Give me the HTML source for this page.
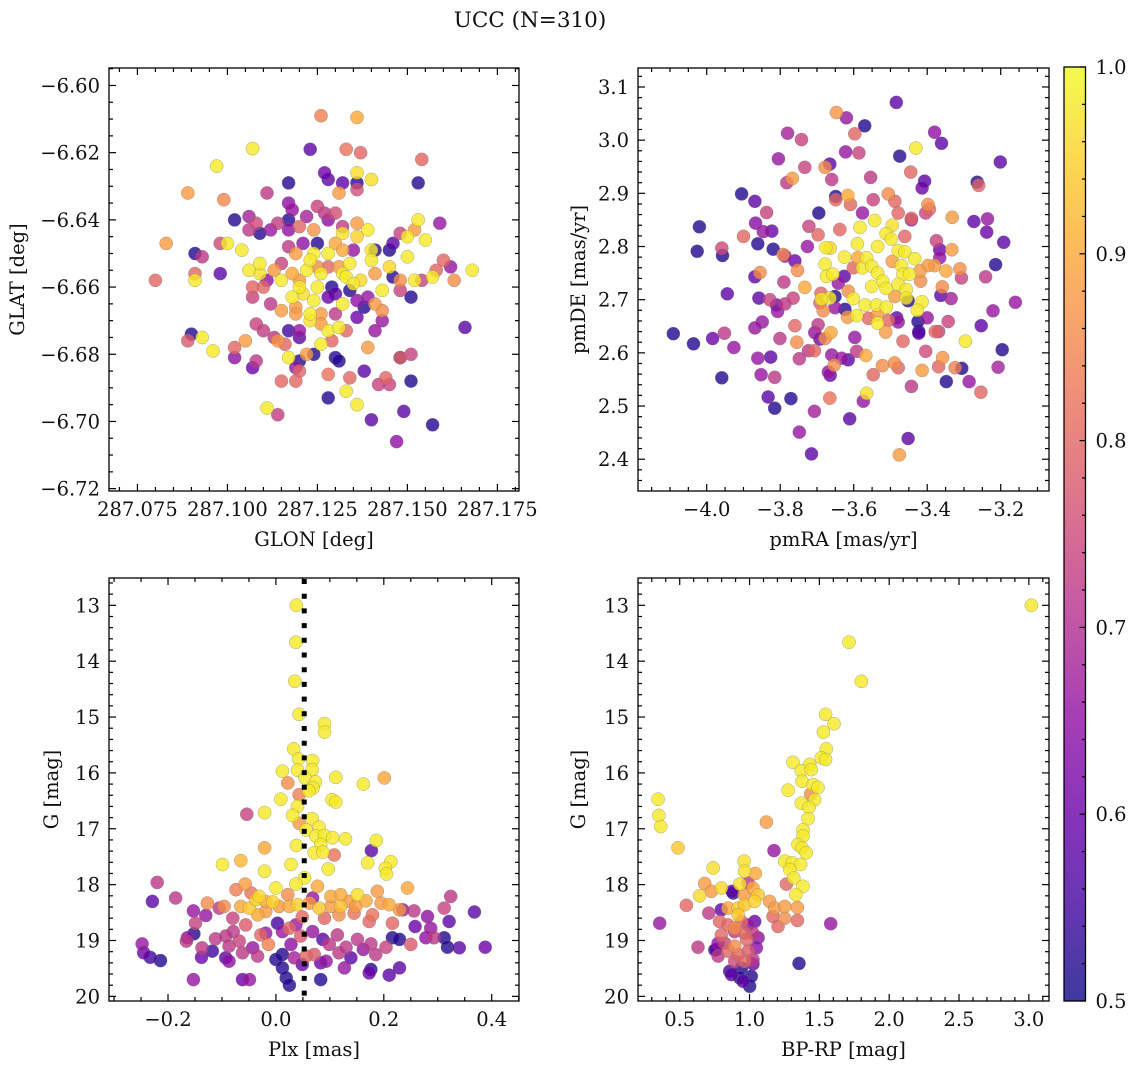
<!DOCTYPE html>
<html><head><meta charset="utf-8"><title>UCC (N=310)</title>
<style>
html,body{margin:0;padding:0;background:#fff;}
svg{display:block;font-family:"DejaVu Serif","Liberation Serif",serif;}
</style></head>
<body>
<svg id="fig" xmlns="http://www.w3.org/2000/svg" width="1136" height="1067" viewBox="0 0 1136 1067">
<rect x="0" y="0" width="1136" height="1067" fill="#fff"/>
<text x="530" y="27" text-anchor="middle" font-size="21.5" fill="#111">UCC (N=310)</text>
</svg>
<script>
// ---------- Panel 1: GLON / GLAT ----------
const p1Glon=[287.126,287.136,287.107,287.123,287.133,287.137,287.154,287.097,287.117,287.127,287.128,287.132,287.136,287.136,287.136,287.140,287.153,287.089,287.099,287.111,287.131,287.117,287.102,287.106,287.125,287.118,287.127,287.130,287.153,287.159,287.083,287.091,287.093,287.098,287.100,287.104,287.109,287.106,287.108,287.112,287.114,287.117,287.117,287.122,287.120,287.124,287.128,287.132,287.136,287.139,287.132,287.136,287.148,287.146,287.150,287.152,287.155,287.125,287.130,287.117,287.121,287.119,287.124,287.128,287.132,287.135,287.140,287.141,287.145,287.150,287.160,287.162,287.168,287.080,287.091,287.091,287.098,287.106,287.109,287.109,287.113,287.115,287.115,287.111,287.107,287.110,287.107,287.118,287.120,287.122,287.123,287.125,287.126,287.128,287.131,287.134,287.132,287.133,287.135,287.137,287.140,287.141,287.145,287.146,287.148,287.152,287.154,287.157,287.158,287.163,287.120,287.125,287.129,287.130,287.134,287.139,287.143,287.148,287.151,287.118,287.121,287.124,287.112,287.115,287.119,287.128,287.132,287.136,287.138,287.141,287.143,287.119,287.123,287.123,287.126,287.130,287.136,287.143,287.126,287.108,287.110,287.113,287.117,287.120,287.114,287.116,287.120,287.128,287.131,287.133,287.141,287.090,287.089,287.093,287.096,287.102,287.105,287.102,287.107,287.108,287.117,287.120,287.119,287.122,287.124,287.126,287.129,287.130,287.131,287.139,287.148,287.148,287.151,287.120,287.115,287.119,287.128,287.134,287.138,287.144,287.142,287.145,287.151,287.128,287.133,287.136,287.111,287.114,287.140,287.149,287.157,287.147,287.166];
const p1Glat=[-6.609,-6.6095,-6.6188,-6.619,-6.619,-6.620,-6.622,-6.624,-6.629,-6.626,-6.628,-6.629,-6.626,-6.629,-6.631,-6.628,-6.629,-6.632,-6.634,-6.632,-6.632,-6.635,-6.640,-6.639,-6.636,-6.637,-6.638,-6.638,-6.640,-6.641,-6.647,-6.650,-6.651,-6.647,-6.647,-6.649,-6.644,-6.643,-6.641,-6.643,-6.641,-6.640,-6.643,-6.639,-6.642,-6.643,-6.640,-6.642,-6.641,-6.643,-6.644,-6.645,-6.644,-6.647,-6.645,-6.643,-6.646,-6.647,-6.647,-6.648,-6.647,-6.650,-6.650,-6.650,-6.649,-6.649,-6.649,-6.649,-6.649,-6.651,-6.652,-6.654,-6.655,-6.658,-6.656,-6.658,-6.656,-6.655,-6.653,-6.656,-6.655,-6.653,-6.658,-6.658,-6.660,-6.660,-6.663,-6.656,-6.658,-6.655,-6.652,-6.654,-6.656,-6.654,-6.654,-6.653,-6.656,-6.657,-6.659,-6.658,-6.652,-6.656,-6.654,-6.657,-6.658,-6.658,-6.658,-6.657,-6.655,-6.658,-6.660,-6.660,-6.660,-6.662,-6.661,-6.663,-6.661,-6.661,-6.663,-6.663,-6.662,-6.664,-6.665,-6.667,-6.666,-6.663,-6.665,-6.664,-6.666,-6.665,-6.667,-6.668,-6.668,-6.670,-6.668,-6.668,-6.669,-6.670,-6.671,-6.671,-6.673,-6.675,-6.673,-6.673,-6.676,-6.677,-6.675,-6.673,-6.672,-6.673,-6.673,-6.674,-6.676,-6.675,-6.679,-6.678,-6.676,-6.681,-6.684,-6.682,-6.681,-6.682,-6.684,-6.680,-6.680,-6.677,-6.676,-6.681,-6.682,-6.678,-6.681,-6.681,-6.680,-6.685,-6.688,-6.688,-6.686,-6.687,-6.685,-6.687,-6.689,-6.689,-6.688,-6.693,-6.691,-6.695,-6.696,-6.698,-6.6995,-6.697,-6.701,-6.706,-6.672];
const p1Prob=[.84,.9,.98,.58,.82,.8,.8,.98,.52,.6,.58,.58,.97,.52,.76,.97,.52,.88,.85,.72,.88,.65,.52,.68,.74,.66,.72,.76,.98,.66,.88,.52,.72,.75,.98,.98,.52,.72,.75,.66,.73,.52,.65,.68,.8,.87,.65,.73,.88,.98,.97,.95,.74,.58,.98,.88,.98,.52,.9,.72,.65,.88,.98,.98,.9,.66,.98,.52,.52,.98,.8,.66,.98,.8,.8,.98,.58,.98,.98,.97,.88,.74,.98,.65,.8,.8,.74,.9,.88,.98,.98,.86,.98,.8,.88,.98,.98,.98,.98,.96,.98,.88,.96,.52,.86,.98,.74,.98,.8,.86,.98,.98,.52,.58,.52,.66,.98,.74,.52,.98,.97,.98,.72,.88,.88,.6,.98,.65,.52,.88,.86,.88,.98,.97,.88,.72,.6,.66,.88,.74,.73,.72,.55,.66,.87,.8,.58,.98,.98,.8,.66,.52,.78,.98,.98,.8,.88,.65,.6,.72,.98,.52,.65,.88,.52,.98,.8,.52,.52,.88,.52,.8,.74,.8,.8,.8,.82,.8,.58,.8,.74,.74,.52,.52,.98,.98,.98,.73,.58,.58,.52,.65,.58];

// ---------- Panel 2: pmRA / pmDE ----------
const p2PmRA=[-3.484,-3.647,-3.620,-3.570,-3.597,-3.780,-3.742,-3.622,-3.586,-3.380,-3.361,-3.431,-3.475,-3.201,-3.805,-3.733,-3.665,-3.678,-3.767,-3.782,-3.660,-3.554,-3.445,-3.407,-3.414,-3.264,-3.260,-3.905,-3.869,-3.837,-3.867,-3.846,-3.823,-4.020,-4.026,-3.959,-3.957,-3.900,-3.861,-3.819,-3.792,-3.760,-3.787,-3.753,-3.855,-3.869,-3.790,-3.733,-3.944,-3.858,-3.828,-3.810,-3.807,-3.787,-3.765,-3.849,-3.869,-4.091,-4.036,-3.984,-3.952,-3.926,-3.861,-3.826,-3.852,-3.815,-3.959,-3.833,-3.815,-3.771,-3.801,-3.760,-3.755,-3.748,-3.723,-3.707,-3.706,-3.697,-3.692,-3.678,-3.662,-3.660,-3.633,-3.653,-3.664,-3.669,-3.615,-3.665,-3.707,-3.748,-3.715,-3.611,-3.574,-3.565,-3.547,-3.522,-3.489,-3.479,-3.476,-3.452,-3.443,-3.414,-3.404,-3.567,-3.592,-3.597,-3.466,-3.423,-3.378,-3.369,-3.369,-3.358,-3.348,-3.324,-3.306,-3.286,-3.254,-3.207,-3.296,-3.253,-3.221,-3.196,-3.160,-3.343,-3.335,-3.363,-3.359,-3.307,-3.311,-3.349,-3.380,-3.398,-3.241,-3.214,-3.192,-3.238,-3.236,-3.273,-3.332,-3.333,-3.375,-3.366,-3.366,-3.398,-3.394,-3.404,-3.443,-3.443,-3.461,-3.488,-3.506,-3.479,-3.547,-3.576,-3.609,-3.616,-3.649,-3.649,-3.695,-3.722,-3.697,-3.638,-3.726,-3.543,-3.495,-3.583,-3.512,-3.498,-3.535,-3.590,-3.676,-3.664,-3.625,-3.678,-3.674,-3.657,-3.626,-3.642,-3.601,-3.576,-3.565,-3.551,-3.589,-3.535,-3.521,-3.551,-3.512,-3.495,-3.479,-3.461,-3.470,-3.434,-3.466,-3.448,-3.420,-3.418,-3.479,-3.457,-3.488,-3.457,-3.414,-3.427,-3.452,-3.400,-3.423,-3.425,-3.615,-3.601,-3.651,-3.665,-3.688,-3.689,-3.692,-3.683,-3.651,-3.624,-3.617,-3.592,-3.569,-3.560,-3.538,-3.511,-3.535,-3.513,-3.506,-3.483,-3.479,-3.535];
const p2PmDE=[3.071,3.052,3.042,3.027,3.012,3.013,3.001,2.978,2.976,3.015,2.994,2.985,2.970,2.959,2.965,2.949,2.955,2.949,2.928,2.920,2.926,2.930,2.940,2.923,2.910,2.921,2.915,2.899,2.885,2.864,2.844,2.828,2.829,2.837,2.791,2.797,2.783,2.819,2.805,2.795,2.785,2.773,2.782,2.755,2.751,2.743,2.733,2.723,2.711,2.703,2.700,2.690,2.678,2.692,2.703,2.658,2.647,2.636,2.617,2.627,2.637,2.610,2.590,2.592,2.559,2.554,2.553,2.517,2.496,2.514,2.627,2.651,2.620,2.589,2.604,2.604,2.638,2.653,2.626,2.627,2.638,2.596,2.590,2.577,2.558,2.564,2.587,2.515,2.490,2.451,2.410,2.476,2.509,2.524,2.559,2.576,2.581,2.572,2.408,2.439,2.537,2.567,2.603,2.595,2.603,2.629,2.622,2.637,2.640,2.640,2.574,2.591,2.546,2.572,2.571,2.546,2.526,2.573,2.622,2.651,2.679,2.606,2.695,2.659,2.702,2.708,2.724,2.741,2.758,2.754,2.764,2.764,2.743,2.766,2.808,2.827,2.852,2.847,2.855,2.794,2.811,2.794,2.779,2.879,2.870,2.863,2.850,2.853,2.819,2.885,2.899,2.863,2.888,2.863,2.879,2.896,2.894,2.888,2.863,2.838,2.822,2.832,2.800,2.849,2.840,2.836,2.824,2.814,2.800,2.805,2.798,2.797,2.780,2.767,2.744,2.748,2.744,2.731,2.760,2.760,2.779,2.763,2.779,2.750,2.735,2.725,2.721,2.772,2.792,2.790,2.764,2.777,2.748,2.748,2.754,2.735,2.729,2.719,2.706,2.703,2.696,2.680,2.698,2.666,2.640,2.659,2.716,2.702,2.706,2.703,2.701,2.712,2.694,2.679,2.685,2.682,2.667,2.670,2.690,2.665,2.690,2.686,2.656,2.639,2.661,2.666,2.658,2.672];
const p2Prob=[.58,.87,.66,.52,.8,.68,.74,.66,.74,.65,.58,.98,.52,.58,.66,.74,.58,.86,.88,.72,.72,.72,.8,.58,.6,.52,.8,.52,.58,.74,.64,.66,.6,.52,.52,.75,.52,.8,.52,.52,.85,.6,.66,.86,.86,.58,.72,.9,.58,.58,.74,.6,.66,.72,.74,.66,.66,.52,.52,.6,.72,.66,.66,.58,.66,.72,.52,.58,.52,.52,.72,.8,.86,.72,.72,.8,.66,.72,.6,.86,.9,.66,.66,.86,.6,.66,.58,.82,.68,.66,.58,.58,.66,.97,.8,.86,.86,.8,.88,.58,.72,.88,.75,.9,.72,.66,.8,.58,.8,.74,.8,.87,.52,.84,.52,.66,.8,.68,.98,.58,.66,.52,.66,.74,.68,.58,.86,.74,.86,.9,.88,.88,.72,.52,.58,.6,.66,.58,.88,.88,.74,.6,.66,.86,.8,.74,.66,.8,.8,.8,.86,.8,.74,.66,.8,.9,.52,.8,.52,.74,.8,.8,.66,.98,.97,.98,.98,.98,.98,.98,.98,.96,.98,.98,.98,.98,.58,.66,.8,.98,.98,.98,.9,.98,.98,.98,.98,.88,.98,.98,.98,.98,.98,.98,.88,.86,.98,.98,.88,.98,.98,.98,.52,.66,.52,.52,.86,.98,.52,.98,.98,.8,.8,.86,.66,.52,.88,.98,.98,.8,.98,.98,.98,.88,.8,.58,.66,.88];

// ---------- Panel 3: Plx / G ----------
const p3Plx=[0.038,0.037,0.035,0.043,0.090,0.090,0.033,0.042,0.068,0.067,0.012,0.040,0.054,0.073,0.069,0.061,0.111,0.162,0.201,0.022,0.009,0.043,0.104,0.111,-0.021,-0.054,0.040,0.031,0.043,0.067,0.056,0.080,0.074,0.090,0.105,0.129,0.083,0.071,0.087,0.108,0.038,0.186,0.177,-0.021,-0.065,-0.099,-0.021,0.028,0.097,0.170,0.213,0.203,0.205,0.053,0.037,0.000,0.077,0.244,-0.057,-0.074,-0.046,-0.031,-0.127,-0.096,-0.065,-0.049,-0.037,-0.019,-0.006,-0.034,-0.019,0.006,0.022,0.025,0.040,0.062,0.080,0.068,0.102,0.120,0.102,0.120,0.136,0.151,0.167,0.188,0.195,0.210,0.229,0.148,0.117,0.145,0.179,0.216,0.090,-0.220,-0.229,-0.186,-0.153,-0.130,-0.105,-0.149,-0.080,-0.056,-0.079,-0.164,-0.152,-0.166,-0.248,-0.245,-0.233,-0.214,-0.137,-0.138,-0.118,-0.112,-0.093,-0.087,-0.087,-0.093,-0.068,-0.062,-0.043,-0.034,-0.028,-0.014,-0.019,0.003,0.012,0.025,0.037,0.046,0.028,0.012,0.000,0.034,0.056,0.071,0.012,0.019,0.025,0.049,0.083,0.083,0.093,0.087,0.099,0.114,0.117,0.130,0.139,0.127,0.151,0.162,0.176,0.173,0.176,0.185,0.204,0.216,0.229,0.229,0.210,0.250,0.256,0.281,0.258,0.287,0.278,0.293,0.312,0.318,0.321,0.312,0.324,0.368,0.340,0.388,-0.153,-0.062,-0.049,0.235,0.173,0.049,0.068];
const p3G=[13.00,13.66,14.36,14.95,15.12,15.27,15.57,15.75,15.78,15.94,15.97,15.95,16.09,16.16,16.27,16.32,16.08,16.20,16.09,16.18,16.47,16.39,16.48,16.52,16.71,16.74,16.60,16.76,16.90,16.82,17.02,16.97,17.13,17.12,17.16,17.18,17.28,17.43,17.42,17.47,17.30,17.21,17.39,17.34,17.57,17.64,17.76,17.64,17.72,17.61,17.59,17.71,17.81,17.88,17.99,18.06,18.03,18.06,17.99,18.09,18.15,18.21,18.33,18.39,18.39,18.42,18.27,18.30,18.31,18.54,18.48,18.39,18.18,18.39,18.36,18.33,18.42,18.24,18.21,18.18,18.39,18.39,18.30,18.18,18.29,18.12,18.33,18.36,18.45,18.39,18.54,18.51,18.54,18.69,18.60,17.96,18.30,18.24,18.47,18.55,18.42,18.69,18.60,18.72,18.84,18.95,18.88,19.01,19.06,19.22,19.30,19.36,19.13,19.30,19.19,18.97,18.92,19.10,19.37,19.31,19.01,19.22,19.13,19.28,18.90,19.07,18.87,18.69,18.84,18.78,18.72,18.92,19.07,19.25,19.34,19.31,19.28,19.25,19.49,19.67,19.80,19.43,19.40,19.70,19.37,18.98,19.07,18.90,19.22,19.12,19.31,19.49,18.98,19.16,19.06,19.58,19.52,19.25,19.12,18.95,18.98,19.49,19.62,19.07,18.47,18.57,18.75,18.78,18.95,18.95,18.95,19.12,18.66,18.42,18.21,18.49,19.13,19.12,19.70,19.70,19.70,18.45,18.66,18.58,18.84];
const p3Prob=[.98,.98,.98,.98,.98,.98,.98,.98,.98,.98,.98,.98,.98,.98,.98,.98,.98,.98,.9,.86,.98,.84,.98,.98,.98,.74,.98,.98,.88,.98,.98,.98,.98,.98,.98,.98,.98,.98,.98,.82,.98,.98,.58,.9,.92,.98,.98,.98,.98,.98,.98,.98,.98,.98,.98,.98,.9,.9,.88,.84,.82,.96,.86,.86,.9,.94,.95,.9,.95,.9,.88,.88,.86,.9,.95,.88,.94,.66,.9,.9,.88,.93,.88,.97,.9,.88,.88,.9,.88,.88,.86,.82,.82,.8,.8,.72,.58,.72,.66,.66,.72,.74,.74,.78,.72,.65,.52,.72,.66,.6,.55,.52,.72,.6,.55,.72,.72,.72,.65,.58,.74,.72,.66,.72,.8,.84,.66,.55,.66,.8,.66,.78,.65,.52,.52,.68,.8,.78,.52,.52,.52,.6,.6,.52,.66,.58,.72,.72,.72,.72,.58,.66,.72,.66,.72,.6,.52,.72,.74,.52,.52,.58,.58,.78,.72,.65,.6,.66,.65,.72,.52,.52,.58,.74,.72,.58,.58,.6,.66,.6,.66,.66,.8,.8,.66];

// ---------- Panel 4: BP-RP / G ----------
const p4BpRp=[3.018,1.712,1.801,1.545,1.605,1.529,1.550,1.514,1.545,1.311,1.431,1.371,1.442,1.376,1.455,1.490,1.276,1.438,1.466,1.371,1.426,1.419,1.383,1.383,1.347,1.376,1.406,1.252,1.305,1.366,1.288,1.317,1.383,1.331,1.121,1.175,0.345,0.350,0.364,0.488,0.357,0.548,0.631,0.739,0.643,0.679,0.727,0.798,0.961,0.965,0.930,1.042,0.846,0.918,0.965,1.037,1.061,1.025,0.918,0.961,1.144,1.180,1.252,1.343,1.252,1.204,1.343,1.264,1.581,1.354,1.168,0.875,0.798,0.708,0.786,0.846,0.894,0.990,1.037,0.965,1.025,1.061,0.775,0.751,0.775,0.822,0.846,0.894,0.918,0.978,0.990,1.049,1.025,0.965,0.894,1.025,0.942,0.870,0.930,0.954,1.001,1.013,0.858,0.763,0.894,0.942,0.882,0.990,0.798];
const p4G=[13.00,13.66,14.36,14.95,15.12,15.27,15.57,15.73,15.76,15.81,15.85,15.96,15.94,16.15,16.21,16.26,16.31,16.38,16.48,16.54,16.62,16.82,17.02,17.13,17.28,17.34,17.43,17.58,17.61,17.64,17.73,17.88,18.03,18.18,16.88,17.39,16.47,16.76,16.96,17.34,18.69,18.37,19.12,17.70,18.20,17.98,18.12,18.06,17.58,17.76,17.99,17.80,18.42,18.42,18.36,18.30,18.18,18.06,18.54,18.18,18.30,18.42,18.39,18.41,18.60,18.75,18.64,17.99,18.70,19.41,18.57,18.12,18.45,18.51,18.66,18.72,18.78,18.72,18.66,18.87,18.87,18.95,19.05,19.17,19.28,19.05,19.19,19.10,19.25,18.98,19.19,19.13,19.34,19.37,19.37,19.42,19.49,19.61,19.67,19.73,19.82,19.64,19.55,19.16,18.84,18.66,18.15,17.97,18.90];
const p4Prob=[.98,.98,.98,.98,.98,.98,.98,.98,.98,.98,.98,.98,.98,.98,.98,.98,.98,.86,.98,.98,.98,.98,.98,.98,.98,.98,.98,.98,.98,.98,.98,.98,.98,.98,.88,.66,.98,.98,.98,.94,.66,.8,.72,.97,.96,.88,.88,.96,.97,.97,.97,.9,.9,.94,.94,.95,.94,.9,.94,.88,.88,.88,.88,.88,.86,.8,.8,.8,.66,.52,.8,.58,.58,.72,.8,.8,.86,.66,.6,.8,.72,.65,.65,.58,.72,.74,.8,.86,.8,.8,.78,.65,.72,.8,.75,.6,.52,.58,.52,.58,.52,.52,.55,.52,.72,.8,.52,.72,.8];

// Tick arrays
const p1XTicks=[287.075,287.100,287.125,287.150,287.175];
const p1YTicks=[-6.72,-6.70,-6.68,-6.66,-6.64,-6.62,-6.60];
const p2XTicks=[-4.0,-3.8,-3.6,-3.4,-3.2];
const p2YTicks=[2.4,2.5,2.6,2.7,2.8,2.9,3.0,3.1];
const p3XTicks=[-0.2,0.0,0.2,0.4];
const gTicks=[13,14,15,16,17,18,19,20];
const p4XTicks=[0.5,1.0,1.5,2.0,2.5,3.0];
const cbTicks=[0.5,0.6,0.7,0.8,0.9,1.0];
const plxRef=0.0525;

const FS=19.5;
const NS='http://www.w3.org/2000/svg';
const fig=document.getElementById('fig');
function el(tag,attrs,parent){const e=document.createElementNS(NS,tag);for(const k in attrs)e.setAttribute(k,attrs[k]);(parent||fig).appendChild(e);return e;}
const PL=['#0d0887','#41049d','#6a00a8','#8f0da4','#b12a90','#cc4778','#e16462','#f2844b','#fca636','#fcce25','#f0f921'];
function hex(h){return [parseInt(h.slice(1,3),16),parseInt(h.slice(3,5),16),parseInt(h.slice(5,7),16)];}
function plasma(t){t=Math.max(0,Math.min(1,t));const f=t*10,i=Math.min(9,Math.floor(f)),r=f-i;const a=hex(PL[i]),b=hex(PL[i+1]);return 'rgb('+a.map((v,k)=>Math.round(v+(b[k]-v)*r)).join(',')+')';}
function cmap(p){return plasma((p-0.5)/0.5);}
function fmt(v,d){const s=Math.abs(v).toFixed(d);return (v<0&&parseFloat(s)!==0?'\u2212':'')+s;}

function panel(cfg){
  const g=el('g',{});
  
  
  const sx=v=>cfg.x0+(v-cfg.xmin)/(cfg.xmax-cfg.xmin)*(cfg.x1-cfg.x0);
  const sy=v=>cfg.y0+(cfg.ymax-v)/(cfg.ymax-cfg.ymin)*(cfg.y1-cfg.y0);
  const idx=cfg.xs.map((_,i)=>i).sort((a,b)=>cfg.ps[a]-cfg.ps[b]);
  const pts=el('g',{},g);
  
  
  idx.forEach(i=>{
    const c=el('circle',{cx:sx(cfg.xs[i]).toFixed(1),cy:sy(cfg.ys[i]).toFixed(1),r:6.6,fill:cmap(cfg.ps[i]),'fill-opacity':0.8,stroke:'#777','stroke-opacity':0.6,'stroke-width':0.5},pts);
    
    
  });
  if(cfg.vline!==undefined){
    const l=el('line',{x1:sx(cfg.vline),x2:sx(cfg.vline),y1:cfg.y0+1,y2:cfg.y1,stroke:'#000','stroke-width':5,'stroke-dasharray':'5 9.7'},g);
    
    
  }
  const fr=el('rect',{x:cfg.x0,y:cfg.y0,width:cfg.x1-cfg.x0,height:cfg.y1-cfg.y0,fill:'none',stroke:'#000','stroke-width':1.3},g);
  
  
  const tk=el('g',{stroke:'#000','stroke-width':1.2},g);
  
  
  const xs0=cfg.xticks[0],xst=(cfg.xticks[1]-cfg.xticks[0])/cfg.xminor;
  for(let k=-40;k<200;k++){const v=xs0+k*xst;if(v<cfg.xmin-1e-9||v>cfg.xmax+1e-9)continue;const X=sx(v);const L=(((k%cfg.xminor)+cfg.xminor)%cfg.xminor===0)?7:4;
    el('line',{x1:X,x2:X,y1:cfg.y1,y2:cfg.y1-L},tk);el('line',{x1:X,x2:X,y1:cfg.y0,y2:cfg.y0+L},tk);}
  const ys0=cfg.yticks[0],yst=(cfg.yticks[1]-cfg.yticks[0])/cfg.yminor;
  const lo=Math.min(cfg.ymin,cfg.ymax),hi=Math.max(cfg.ymin,cfg.ymax);
  for(let k=-40;k<200;k++){const v=ys0+k*yst;if(v<lo-1e-9||v>hi+1e-9)continue;const Y=sy(v);const L=(((k%cfg.yminor)+cfg.yminor)%cfg.yminor===0)?7:4;
    el('line',{x1:cfg.x0,x2:cfg.x0+L,y1:Y,y2:Y},tk);el('line',{x1:cfg.x1,x2:cfg.x1-L,y1:Y,y2:Y},tk);}
  cfg.xticks.forEach(v=>{const t=el('text',{x:sx(v),y:cfg.y1+25,'text-anchor':'middle','font-size':FS,fill:'#111'},g);t.textContent=fmt(v,cfg.xd);
    
    });
  cfg.yticks.forEach(v=>{const t=el('text',{x:cfg.x0-9,y:sy(v)+7,'text-anchor':'end','font-size':FS,fill:'#111'},g);t.textContent=fmt(v,cfg.yd);
    
    });
  const xl=el('text',{x:(cfg.x0+cfg.x1)/2,y:cfg.y1+55,'text-anchor':'middle','font-size':FS,fill:'#111'},g);xl.textContent=cfg.xlabel;
  
  
  const yx=cfg.ylabx, ym=(cfg.y0+cfg.y1)/2;
  const yl=el('text',{x:yx,y:ym,'text-anchor':'middle','font-size':FS,fill:'#111',transform:'rotate(-90 '+yx+' '+ym+')'},g);yl.textContent=cfg.ylabel;
  
  
}

panel({name:'glon-glat-panel',xs:p1Glon,ys:p1Glat,ps:p1Prob,x0:109,x1:519,y0:68,y1:491,xmin:287.0671,xmax:287.1810,ymin:-6.7207,ymax:-6.5948,xticks:p1XTicks,yticks:p1YTicks,yminor:4,xminor:5,xd:3,yd:2,xlabel:'GLON [deg]',ylabel:'GLAT [deg]',ylabx:24});
panel({name:'proper-motion-panel',xs:p2PmRA,ys:p2PmDE,ps:p2Prob,x0:638,x1:1049,y0:68,y1:491,xmin:-4.187,xmax:-3.0686,ymin:2.3402,ymax:3.1357,xticks:p2XTicks,yticks:p2YTicks,xminor:4,yminor:5,xd:1,yd:1,xlabel:'pmRA [mas/yr]',ylabel:'pmDE [mas/yr]',ylabx:585});
panel({name:'parallax-magnitude-panel',xs:p3Plx,ys:p3G,ps:p3Prob,x0:109,x1:519,y0:578,y1:1001,xmin:-0.3094,xmax:0.4506,ymin:20.083,ymax:12.511,xticks:p3XTicks,yticks:gTicks,xminor:4,yminor:5,xd:1,yd:0,xlabel:'Plx [mas]',ylabel:'G [mag]',ylabx:58,vline:plxRef});
panel({name:'color-magnitude-panel',xs:p4BpRp,ys:p4G,ps:p4Prob,x0:638,x1:1049,y0:578,y1:1001,xmin:0.2014,xmax:3.1443,ymin:20.083,ymax:12.511,xticks:p4XTicks,yticks:gTicks,xminor:5,yminor:5,xd:1,yd:0,xlabel:'BP-RP [mag]',ylabel:'G [mag]',ylabx:585});

// Colorbar
const cb=el('g',{});


const cbX=1064,cbW=21.5,cbTop=67,cbBot=1001;
const cbY=v=>cbBot-(v-0.5)/0.5*(cbBot-cbTop);
const defs=el('defs',{});
const grad=el('linearGradient',{id:'cbgrad',x1:0,y1:1,x2:0,y2:0},defs);
for(let i=0;i<=20;i++){el('stop',{offset:(i/20).toFixed(3),'stop-color':plasma(i/20)},grad);}
el('rect',{x:cbX,y:cbTop,width:cbW,height:cbBot-cbTop,fill:'url(#cbgrad)','fill-opacity':0.8},cb);
el('rect',{x:cbX,y:cbTop,width:cbW,height:cbBot-cbTop,fill:'none',stroke:'#000','stroke-width':1.3},cb);
for(let k=0;k<=25;k++){const v=0.5+k*0.02;const Y=cbY(v);const L=(k%5===0)?6:3.5;el('line',{x1:cbX+cbW,x2:cbX+cbW-L,y1:Y,y2:Y,stroke:'#000','stroke-width':1.2},cb);}
cbTicks.forEach(v=>{const t=el('text',{x:cbX+cbW+10,y:cbY(v)+7,'font-size':FS,fill:'#111'},cb);t.textContent=v.toFixed(1);
  
  });
</script>
</body></html>
